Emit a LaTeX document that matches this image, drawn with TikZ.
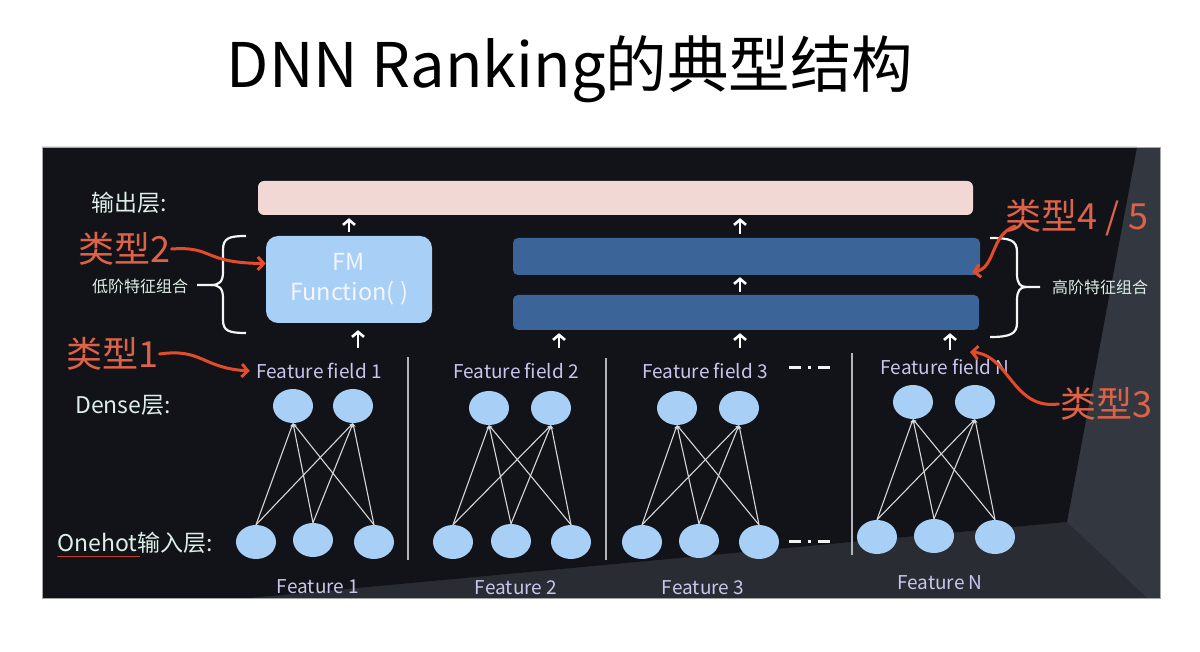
\documentclass[tikz,border=0pt]{standalone}
\usepackage{fontspec}
\setmainfont{Noto Sans CJK SC}
\usetikzlibrary{arrows.meta,shapes.geometric}

\definecolor{panel}{HTML}{111318}
\definecolor{panelgray}{HTML}{33373F}
\definecolor{floorgray}{HTML}{292C33}
\definecolor{nodeblue}{HTML}{A8CFF5}
\definecolor{barblue}{HTML}{3B6498}
\definecolor{outpink}{HTML}{F2D8D4}
\definecolor{minttext}{HTML}{DDEFE8}
\definecolor{fieldpurple}{HTML}{C8C6EC}
\definecolor{typered}{HTML}{DC6248}
\definecolor{notered}{HTML}{E34B2B}
\definecolor{linkgray}{HTML}{D6D6D6}
\definecolor{sepgray}{HTML}{B4B4BC}

\tikzset{
  neuron/.style={ellipse, fill=nodeblue, minimum width=40pt, minimum height=34pt, inner sep=0pt},
  link/.style={draw=linkgray, line width=1.1pt, -{Stealth[length=4pt,width=3.5pt]}},
  uparrow/.style={draw=white, line width=2.6pt, -{Straight Barb[length=5pt,width=12pt]}},
  notearrow/.style={draw=notered, line width=3pt, line cap=round, -{Straight Barb[length=6pt,width=13pt]}},
  fieldtext/.style={text=fieldpurple, font=\fontsize{19}{22}\selectfont},
  layertext/.style={text=minttext, font=\fontsize{23}{27}\selectfont},
  typetext/.style={text=typered, font=\fontsize{36}{40}\selectfont},
  combtext/.style={text=minttext, font=\fontsize{16}{19}\selectfont},
  bracepath/.style={draw=white!92!gray, line width=2.2pt},
  sep/.style={draw=sepgray, line width=1.8pt},
  dots/.style={draw=white!90!gray, line width=3pt, dash pattern=on 12pt off 7pt on 2.5pt off 7pt on 12pt},
}

\begin{document}
\begin{tikzpicture}[x=1pt, y=-1pt]
  \fill[white] (0,0) rectangle (1200,652);
  \useasboundingbox (0,0) rectangle (1200,652);

  % title
  \node[font=\fontsize{61.5}{70}\selectfont] (title) at (570,69) {DNN Ranking的典型结构};

  % screen backdrop
  \fill[panelgray] (42,147) rectangle (1160,598);
  \fill[floorgray] (250,598) -- (1067,522) -- (1147,598) -- cycle;
  \fill[panel] (42,147) -- (1137,147) -- (1067,522) -- (250,598) -- (42,598) -- cycle;
  \draw[gray!70, line width=0.8pt] (42,147) rectangle (1160,598);

  % upper layers
  \node[fill=outpink, rounded corners=6pt, minimum width=715pt, minimum height=34pt] (out) at (615.5,198) {};
  \node[fill=nodeblue, rounded corners=12pt, minimum width=166pt, minimum height=87pt,
        text=white!96!blue, font=\fontsize{23.5}{30}\selectfont, align=center] (fm) at (349,279.5) {FM\\Function( )};
  \node[fill=barblue, rounded corners=5pt, minimum width=467pt, minimum height=37pt] (bar1) at (746.5,256.5) {};
  \node[fill=barblue, rounded corners=5pt, minimum width=466pt, minimum height=35pt] (bar2) at (746,312.5) {};

  \draw[uparrow, shorten <=4pt, shorten >=3pt] (fm.north) -- (fm.north |- out.south);
  \draw[uparrow, shorten <=4pt, shorten >=3pt] ([xshift=-6.5pt]bar1.north) -- ([xshift=-6.5pt]bar1.north |- out.south);
  \draw[uparrow, shorten <=3pt, shorten >=2pt] ([xshift=-6pt]bar2.north) -- ([xshift=-6pt]bar2.north |- bar1.south);

  \coordinate (in1) at (358,348);
  \coordinate (in2) at (559,348);
  \coordinate (in3) at (740,348);
  \coordinate (inN) at (950,350);
  \draw[uparrow, shorten >=7pt] (in1) -- (in1 |- fm.south);
  \draw[uparrow, shorten >=3pt] (in2) -- (in2 |- bar2.south);
  \draw[uparrow, shorten >=3pt] (in3) -- (in3 |- bar2.south);
  \draw[uparrow, shorten >=3pt] (inN) -- (inN |- bar2.south);

  % braces
  \draw[bracepath] (246,236) .. controls (229,236) and (223,238) .. (223,250) -- (223,272)
    .. controls (223,282) and (219,285) .. (211,285) -- (197,285);
  \draw[bracepath] (211,285) .. controls (219,285) and (223,288) .. (223,298) -- (223,320)
    .. controls (223,331) and (229,333) .. (246,333);
  \draw[bracepath] (990,238) .. controls (1010,238) and (1017,240) .. (1017,252) -- (1017,274)
    .. controls (1017,283) and (1020,287) .. (1026,287) -- (1040,287);
  \draw[bracepath] (1026,287) .. controls (1020,287) and (1017,291) .. (1017,300) -- (1017,323)
    .. controls (1017,334) and (1010,337) .. (990,337);
  \node[combtext] (low) at (140,286) {低阶特征组合};
  \node[combtext] (high) at (1100,287) {高阶特征组合};

  % layer names
  \node[layertext] (outname) at (129,203) {输出层:};
  \node[layertext] (densename) at (123,405) {Dense层:};
  \node[layertext] (onehotname) at (135,543) {Onehot输入层:};
  \draw[notered!85!black, line width=1pt] (57,556) -- (140,556);

  % feature fields
  \node[fieldtext] (ff1) at (319,371) {Feature field 1};
  \node[fieldtext] (ff2) at (516,371) {Feature field 2};
  \node[fieldtext] (ff3) at (705,371) {Feature field 3};
  \node[fieldtext] (ffn) at (945,367) {Feature field N};
  \node[fieldtext] (f1) at (318,587) {Feature 1};
  \node[fieldtext] (f2) at (516,588) {Feature 2};
  \node[fieldtext] (f3) at (703,588) {Feature 3};
  \node[fieldtext] (fn) at (940,583) {Feature N};

  \draw[sep] (408,357) -- (408,560);
  \draw[sep] (606,358) -- (606,560);
  \draw[sep] (852,353) -- (852,555);
  \draw[dots] (789,368) -- (833,368);
  \draw[dots] (789,541) -- (833,541);

  % dense layer
  \node[neuron] (d1a) at (293,406) {};
  \node[neuron] (d1b) at (353,406) {};
  \node[neuron] (d2a) at (489,408) {};
  \node[neuron] (d2b) at (551,408) {};
  \node[neuron] (d3a) at (677,408) {};
  \node[neuron] (d3b) at (739,408) {};
  \node[neuron] (dna) at (913,402) {};
  \node[neuron] (dnb) at (975,402) {};

  % onehot layer
  \node[neuron] (o1a) at (256,542) {};
  \node[neuron] (o1b) at (313,540) {};
  \node[neuron] (o1c) at (374,542) {};
  \node[neuron] (o2a) at (453,542) {};
  \node[neuron] (o2b) at (511,541) {};
  \node[neuron] (o2c) at (571,542) {};
  \node[neuron] (o3a) at (642,542) {};
  \node[neuron] (o3b) at (699,541) {};
  \node[neuron] (o3c) at (759,542) {};
  \node[neuron] (ona) at (877,537) {};
  \node[neuron] (onb) at (934,536) {};
  \node[neuron] (onc) at (995,537) {};

  \foreach \g in {1,2,3,n}
    \foreach \i in {a,b,c}
      \foreach \j in {a,b}
        \draw[link] (o\g\i.north) -- (d\g\j.south);

  % notes
  \node[typetext] (t2) at (124,249) {类型2};
  \node[typetext] (t1) at (112,354) {类型1};
  \node[typetext] (t45) at (1077,218) {类型4 / 5};
  \node[typetext] (t3) at (1106,404) {类型3};
  \coordinate (t45from) at (1015,226);
  \draw[notearrow] ([xshift=-2pt]t2.east) .. controls (214,246) and (202,263) .. ([yshift=16pt]fm.west);
  \draw[notearrow] ([xshift=-2pt]t1.east) .. controls (202,348) and (202,368) .. ([xshift=-3pt]ff1.west);
  \draw[notearrow] (t45from) .. controls (990,235) and (996,268) .. ([xshift=-8pt,yshift=3pt]bar1.south east);
  \draw[notearrow] ([xshift=2pt]t3.west) .. controls (1012,410) and (1010,355) .. (970,352);
\end{tikzpicture}
\end{document}
